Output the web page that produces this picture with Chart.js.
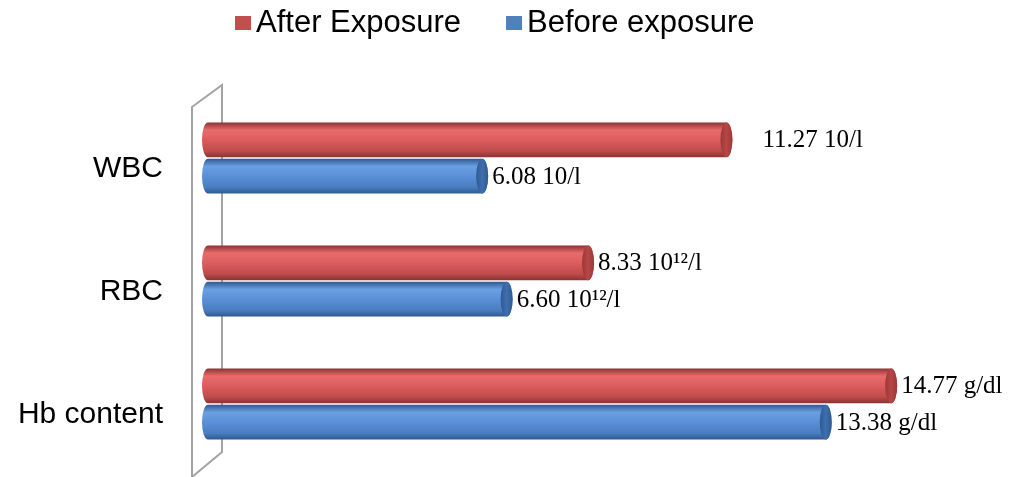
<!DOCTYPE html>
<html>
<head>
<meta charset="utf-8">
<title>Blood values before and after exposure</title>
<script src="https://cdn.jsdelivr.net/npm/chart.js@4.4.1/dist/chart.umd.min.js"></script>
<style>
  html, body { margin: 0; padding: 0; background: #fff; }
</style>
</head>
<body>
<canvas id="myChart" width="1013" height="477"></canvas>
<script>
// ******* DATA ******************
let categories = ['WBC', 'RBC', 'Hb content'];
let afterValues = [11.27, 8.33, 14.77];
let beforeValues = [6.08, 6.60, 13.38];
let units = ['10/l', '10\u00B9\u00B2/l', 'g/dl'];
let seriesNames = ['After Exposure', 'Before exposure'];

// flat colours (legend) + cylinder shades
let flatColors = ['#c0504d', '#4f81bd'];
let shades = [
  { edge: '#8a3232', light: '#e96b6b', mid: '#dc5d5d', low: '#bf4b4b', cap: '#b84646', capEdge: '#9a3838' },
  { edge: '#2e5990', light: '#6a9fe2', mid: '#5a90d8', low: '#4a7dc0', cap: '#3f6fae', capEdge: '#2f5a92' }
];


//////////////////////////////////////////////////////////////////
// draws one bar as a lying cylinder
//////////////////////////////////////////////////////////////////
function drawCylinder(ctx, bar, s) {
  let h = bar.height;
  let top = bar.y - h / 2;
  let left = Math.min(bar.base, bar.x);
  let right = Math.max(bar.base, bar.x);
  let rx = 6;

  let g = ctx.createLinearGradient(0, top, 0, top + h);
  g.addColorStop(0, s.edge);
  g.addColorStop(0.22, s.light);
  g.addColorStop(0.5, s.mid);
  g.addColorStop(0.82, s.low);
  g.addColorStop(1, s.edge);

  ctx.fillStyle = g;
  ctx.beginPath();
  ctx.moveTo(right - rx, top);
  ctx.lineTo(left + rx, top);
  ctx.ellipse(left + rx, top + h / 2, rx, h / 2, 0, -Math.PI / 2, Math.PI / 2, true);
  ctx.lineTo(right - rx, top + h);
  ctx.ellipse(right - rx, top + h / 2, rx, h / 2, 0, Math.PI / 2, -Math.PI / 2, true);
  ctx.closePath();
  ctx.fill();

  // end cap
  let cg = ctx.createLinearGradient(right - 2 * rx, 0, right, 0);
  cg.addColorStop(0, s.capEdge);
  cg.addColorStop(0.5, s.cap);
  cg.addColorStop(1, s.capEdge);
  ctx.fillStyle = cg;
  ctx.beginPath();
  ctx.ellipse(right - rx, top + h / 2, rx, h / 2, 0, 0, Math.PI * 2);
  ctx.fill();
}


const cylinderPlugin = {
  id: 'cylinders',
  beforeDatasetsDraw(chart) {
    let ctx = chart.ctx;
    let area = chart.chartArea;

    // back wall behind the bars
    ctx.save();
    ctx.strokeStyle = '#a3a3a3';
    ctx.lineWidth = 2;
    ctx.beginPath();
    ctx.moveTo(area.left - 10, area.top + 10.5);
    ctx.lineTo(area.left + 20, area.top - 11.5);
    ctx.lineTo(area.left + 20, area.bottom - 13.5);
    ctx.lineTo(area.left - 10, area.bottom + 11.5);
    ctx.closePath();
    ctx.stroke();

    chart.data.datasets.forEach(function (ds, i) {
      let meta = chart.getDatasetMeta(i);
      meta.data.forEach(function (bar) {
        drawCylinder(ctx, bar, shades[i]);
      });
    });
    ctx.restore();
    return false; // bars already drawn
  },
  afterDraw(chart) {
    let ctx = chart.ctx;
    ctx.save();

    // value labels
    ctx.fillStyle = '#000';
    ctx.font = '25px "Liberation Serif"';
    ctx.textAlign = 'left';
    ctx.textBaseline = 'middle';
    chart.data.datasets.forEach(function (ds, i) {
      let meta = chart.getDatasetMeta(i);
      meta.data.forEach(function (bar, j) {
        let gap = 4;
        if (i === 0 && j === 0) gap = 30; // WBC label sits further out
        let txt = ds.data[j].toFixed(2) + ' ' + units[j];
        ctx.fillText(txt, bar.x + gap, bar.y + 1);
      });
    });

    // legend row at the top
    ctx.font = '31px "Liberation Sans"';
    ctx.textBaseline = 'alphabetic';
    let x = 235;
    chart.data.datasets.forEach(function (ds) {
      ctx.fillStyle = ds.backgroundColor;
      ctx.fillRect(x, 16, 16, 14);
      ctx.fillStyle = '#000';
      ctx.fillText(ds.label, x + 21, 32);
      x += 21 + ctx.measureText(ds.label).width + 45;
    });
    ctx.restore();
  }
};


const data = {
  labels: categories,
  datasets: [{
    label: seriesNames[0],
    data: afterValues,
    backgroundColor: flatColors[0],
    borderWidth: 0
  },
  {
    label: seriesNames[1],
    data: beforeValues,
    backgroundColor: flatColors[1],
    borderWidth: 0
  }]
};

const config = {
  type: 'bar',
  data: data,
  options: {
    indexAxis: 'y',
    responsive: false,
    animation: false,
    devicePixelRatio: 1,
    categoryPercentage: 0.59,
    barPercentage: 0.96,
    layout: {
      padding: { top: 0, right: 25, bottom: 11.5, left: 0 }
    },
    plugins: {
      legend: { display: false },
      tooltip: { enabled: false }
    },
    scales: {
      x: {
        position: 'top',
        min: 0,
        max: 16.7,
        grid: { display: false },
        border: { display: false },
        ticks: { display: false },
        afterFit: function (scale) { scale.height = 96.5; }
      },
      y: {
        grid: { display: false, drawTicks: false },
        border: { display: false },
        ticks: {
          color: '#000',
          font: { size: 30, family: 'Liberation Sans' },
          padding: 39,
          labelOffset: 11
        },
        afterFit: function (scale) {
          scale.width = 202;
          scale.paddingTop = 0;
          scale.paddingBottom = 0;
        }
      }
    }
  },
  plugins: [cylinderPlugin]
};

let canvasChart = document.getElementById('myChart');
const myChart = new Chart(canvasChart, config);
</script>
</body>
</html>
